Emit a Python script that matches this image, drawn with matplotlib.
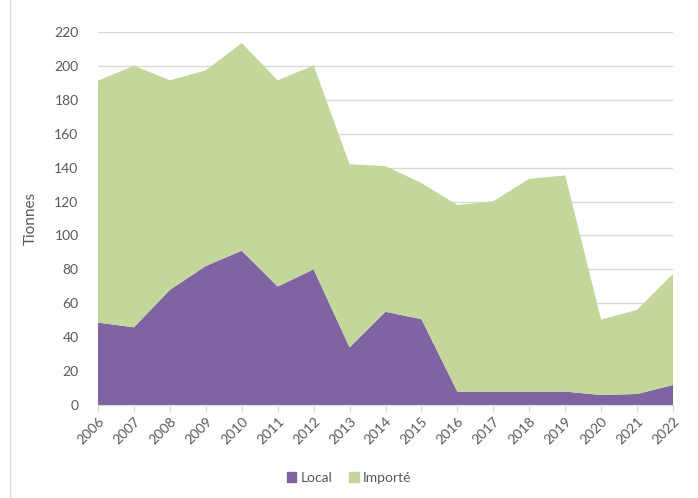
import numpy as np
from matplotlib import pyplot as plt
from matplotlib.patches import Patch
from matplotlib.lines import Line2D

plt.rcParams['font.family'] = ['Lato', 'DejaVu Sans']

years = np.arange(2006, 2023)
local = [48.6, 45.8, 67.9, 82.0, 91.0, 69.9, 80.0, 34.0, 55.0, 50.6,
         7.9, 7.9, 7.9, 7.9, 5.9, 6.5, 11.8]
total = [191.3, 200.1, 191.5, 197.4, 213.5, 191.5, 200.3, 142.0, 140.9, 130.9,
         118.0, 120.2, 133.4, 135.4, 50.4, 56.1, 77.3]
importe = [t - l for t, l in zip(total, local)]

purple = '#8064A2'
green = '#C4D79B'
grey = '#595959'

fig = plt.figure(figsize=(6.98, 4.98), dpi=100)
ax = fig.add_axes([98/698, 1 - 405/498, (673 - 98)/698, (405 - 32)/498])

ax.stackplot(years, local, importe, colors=[purple, green], linewidth=0)

ax.set_xlim(2006, 2022)
ax.set_ylim(0, 220)
ax.set_yticks(np.arange(0, 221, 20))
ax.set_xticks(years)
ax.set_xticklabels([str(y) for y in years], rotation=45, ha='right',
                   rotation_mode='anchor')
ax.yaxis.grid(True, color='#d9d9d9', linewidth=1)
ax.set_axisbelow(True)
for s in ['top', 'right', 'left']:
    ax.spines[s].set_visible(False)
ax.spines['bottom'].set_color('#d9d9d9')
ax.spines['bottom'].set_zorder(5)
ax.tick_params(axis='y', length=0, labelsize=10, labelcolor=grey, pad=14)
ax.tick_params(axis='x', length=5, color='#d9d9d9', labelsize=10,
               labelcolor=grey, pad=2)
ax.set_ylabel('Tionnes', fontsize=11, color=grey, labelpad=12)

handles = [Patch(color=purple), Patch(color=green)]
fig.legend(handles, ['Local', 'Importé'], loc='center', bbox_to_anchor=(0.5, 1 - 478/498),
           ncol=2, frameon=False, fontsize=10, labelcolor=grey,
           handlelength=0.7, handleheight=0.7, handletextpad=0.3, columnspacing=1.2)

fig.add_artist(Line2D([10/698, 10/698], [0, 1], color='#d9d9d9', linewidth=1))

fig.savefig('out.png', dpi=100)
